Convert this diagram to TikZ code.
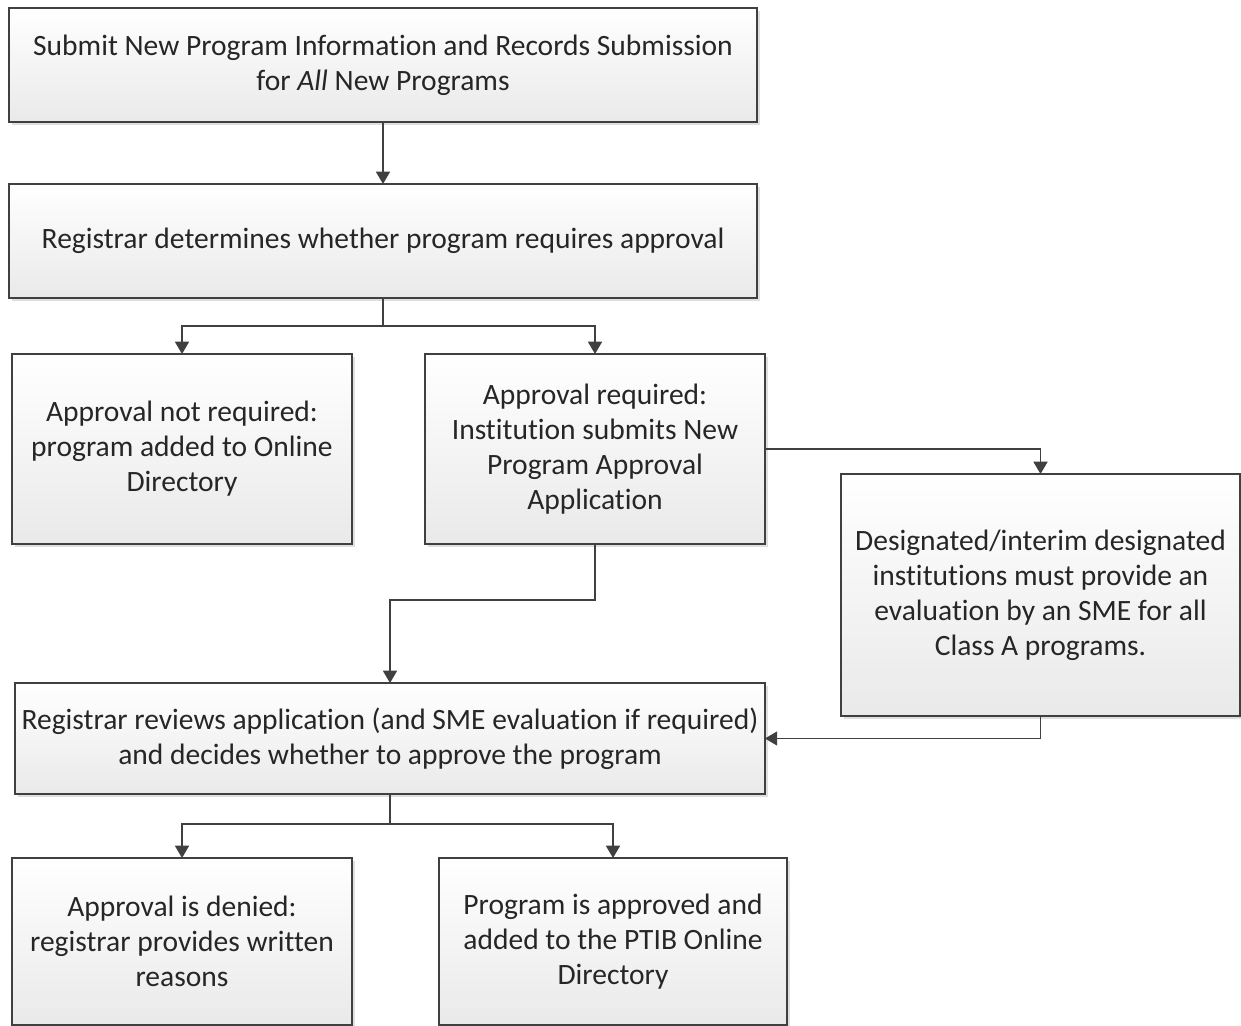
\documentclass[tikz,border=0pt]{standalone}
\usepackage{fontspec}
\setmainfont{Carlito}[Ligatures=NoCommon]
\usetikzlibrary{arrows.meta,shadows}
\definecolor{linegray}{HTML}{404040}
\tikzstyle{arrow} = [-{Triangle[width=8pt,length=7pt]},draw=linegray,line width=0.8pt]
\tikzstyle{procbox} = [draw=linegray,line width=0.8pt,top color=white,bottom color=gray!17,text=black!85,align=center,inner sep=0pt,outer sep=0pt,font=\fontsize{16.8}{19.9}\selectfont,drop shadow={opacity=0.25,shadow xshift=1.5pt,shadow yshift=-1.5pt}]

\begin{document}
\begin{tikzpicture}[x=0.02cm,y=-0.02cm]
          \useasboundingbox (0,0) rectangle (1241,1026);
          \node[procbox,minimum width=14.96cm,minimum height=2.28cm] (submit) at (383,65) {Submit New Program Information and Records Submission\\for \textit{All} New Programs};
          \node[procbox,minimum width=14.96cm,minimum height=2.28cm] (determine) at (383,241) {Registrar determines whether program requires approval};
          \node[procbox,minimum width=6.8cm,minimum height=3.8cm] (notreq) at (182,449) {Approval not required:\\program added to Online\\Directory};
          \node[procbox,minimum width=6.8cm,minimum height=3.8cm] (req) at (595,449) {Approval required:\\Institution submits New\\Program Approval\\Application};
          \node[procbox,minimum width=7.98cm,minimum height=4.84cm] (sme) at (1040.5,595) {Designated/interim designated\\institutions must provide an\\evaluation by an SME for all\\Class A programs.};
          \node[procbox,minimum width=15cm,minimum height=2.22cm] (review) at (390,738.5) {Registrar reviews application (and SME evaluation if required)\\and decides whether to approve the program};
          \node[procbox,minimum width=6.8cm,minimum height=3.34cm] (denied) at (182,941.5) {Approval is denied:\\registrar provides written\\reasons};
          \node[procbox,minimum width=6.96cm,minimum height=3.34cm] (approved) at (613,941.5) {Program is approved and\\added to the PTIB Online\\Directory};

          \draw[arrow] (submit) -- (determine);
          \draw[arrow] (determine.south) -- ++(0,28) -| (notreq.north);
          \draw[arrow] (determine.south) -- ++(0,28) -| (req.north);
          \draw[arrow] (req.east) -| (sme.north);
          \draw[arrow] (req.south) -- ++(0,56) -| (review.north);
          \draw[arrow] (sme.south) |- (review.east);
          \draw[arrow] (review.south) -- ++(0,30) -| (denied.north);
          \draw[arrow] (review.south) -- ++(0,30) -| (approved.north);
        \end{tikzpicture}
\end{document}
